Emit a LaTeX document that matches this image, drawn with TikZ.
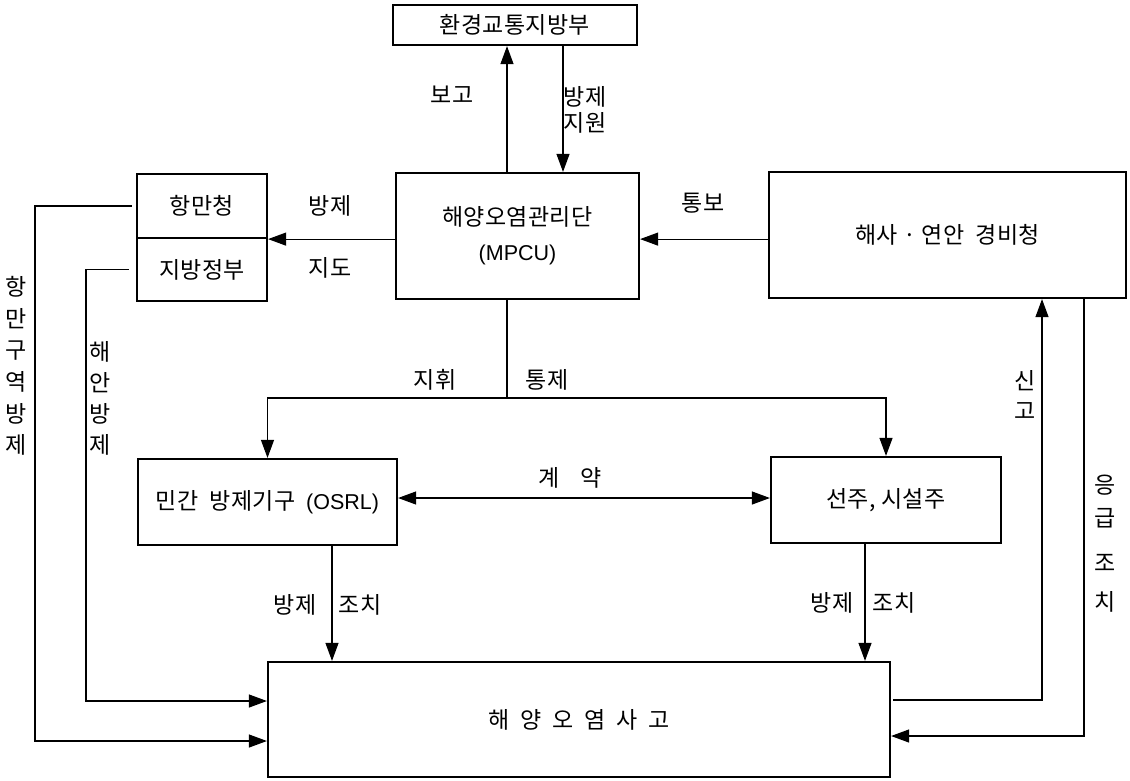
\documentclass[tikz,border=0pt]{standalone}
\usepackage{fontspec}
\setmainfont{Noto Sans CJK KR}[LetterSpace=1.5]
\newfontfamily\latf{Liberation Sans}
\usetikzlibrary{arrows.meta}
\tikzset{
  box/.style={draw, line width=2.2pt, inner sep=0pt, align=center, font=\fontsize{23}{35}\selectfont},
  conn/.style={line width=1.1pt},
  arr/.style={conn, -{Triangle[length=18pt,width=13pt]}},
  arrboth/.style={conn, {Triangle[length=18pt,width=13pt]}-{Triangle[length=18pt,width=13pt]}},
  lbl/.style={inner sep=0pt, font=\fontsize{23}{26}\selectfont, align=center},
  vlbl/.style={inner sep=0pt, align=center},
}
\begin{document}
\begin{tikzpicture}[x=1pt,y=-1pt]
\useasboundingbox (0,0) rectangle (1130,780);
% boxes
\node[box, minimum width=244pt, minimum height=40pt] (env) at (515,25) {환경교통지방부};
\node[box, minimum width=243pt, minimum height=126pt] (mpcu) at (517.5,236) {해양오염관리단\\{\latf\fontsize{21.5}{35}\selectfont (MPCU)}};
\node[box, minimum width=130pt, minimum height=64pt] (port) at (202,206) {항만청};
\node[box, minimum width=130pt, minimum height=63pt] (local) at (202,269.5) {지방정부};
\node[box, minimum width=357pt, minimum height=126pt] (coast) at (947.5,235) {해사 · 연안\ \ 경비청};
\node[box, minimum width=259pt, minimum height=86pt] (osrl) at (267.5,502) {민간\ \ 방제기구\ \ {\latf\fontsize{21.5}{35}\selectfont (OSRL)}};
\node[box, minimum width=230pt, minimum height=86pt] (owner) at (886,500) {선주, 시설주};
\node[box, minimum width=622pt, minimum height=115pt] (acc) at (579,719.5) {해\ \ 양\ \ 오\ \ 염\ \ 사\ \ 고};
% helper coordinates
\coordinate (b1) at (507,0);
\coordinate (b2) at (563,0);
\coordinate (j) at (507,398);
\coordinate (k) at (0,498);
\coordinate (d1) at (332,0);
\coordinate (d2) at (865,0);
\coordinate (h1) at (35,741);
\coordinate (h2) at (86,701);
\coordinate (s1) at (1042,700);
\coordinate (e1) at (1084,736);
% connectors
\draw[arr] (mpcu.north -| b1) -- (env.south -| b1);
\draw[arr] (env.south -| b2) -- (mpcu.north -| b2);
\draw[arr] (mpcu.west |- port.south) -- (port.south east);
\draw[arr] (coast.west |- port.south) -- (mpcu.east |- port.south);
\draw[conn] (mpcu.south -| j) -- (j);
\draw[arr] (j) -| (osrl.north);
\draw[arr] (j) -| (owner.north);
\draw[arrboth] (osrl.east |- k) -- (owner.west |- k);
\draw[arr] (osrl.south -| d1) -- (acc.north -| d1);
\draw[arr] (owner.south -| d2) -- (acc.north -| d2);
\draw[arr] ([xshift=-4pt]port.west) -| (h1) -- (acc.west |- h1);
\draw[arr] ([xshift=-7pt]local.west) -| (h2) -- (acc.west |- h2);
\draw[arr] ([xshift=2pt]acc.east |- s1) -- (s1) -- (coast.south -| s1);
\draw[arr] (coast.south -| e1) -- (e1) -- (acc.east |- e1);
% labels
\node[lbl] (l1) at (452,95) {보고};
\node[lbl] (l2) at (585,110) {방제\\지원};
\node[lbl] (l3) at (330,206) {방제};
\node[lbl] (l4) at (330,268) {지도};
\node[lbl] (l5) at (703,203) {통보};
\node[lbl] (l6) at (435,380) {지휘};
\node[lbl] (l7) at (547,380) {통제};
\node[lbl] (l8) at (570,478) {계 \hspace{16pt}약};
\node[lbl] (l9) at (295,605) {방제};
\node[lbl] (l10) at (360,605) {조치};
\node[lbl] (l11) at (832,603) {방제};
\node[lbl] (l12) at (894,603) {조치};
\node[vlbl, font=\fontsize{23}{31.6}\selectfont] (v1) at (16,366) {항\\만\\구\\역\\방\\제};
\node[vlbl, font=\fontsize{23}{31}\selectfont] (v2) at (100,398.5) {해\\안\\방\\제};
\node[vlbl, font=\fontsize{23}{30}\selectfont] (v3) at (1025,395) {신\\고};
\node[vlbl, font=\fontsize{23}{33}\selectfont] (v4) at (1105,543.5) {응\\급\\[12pt]조\\[6pt]치};
\end{tikzpicture}
\end{document}
